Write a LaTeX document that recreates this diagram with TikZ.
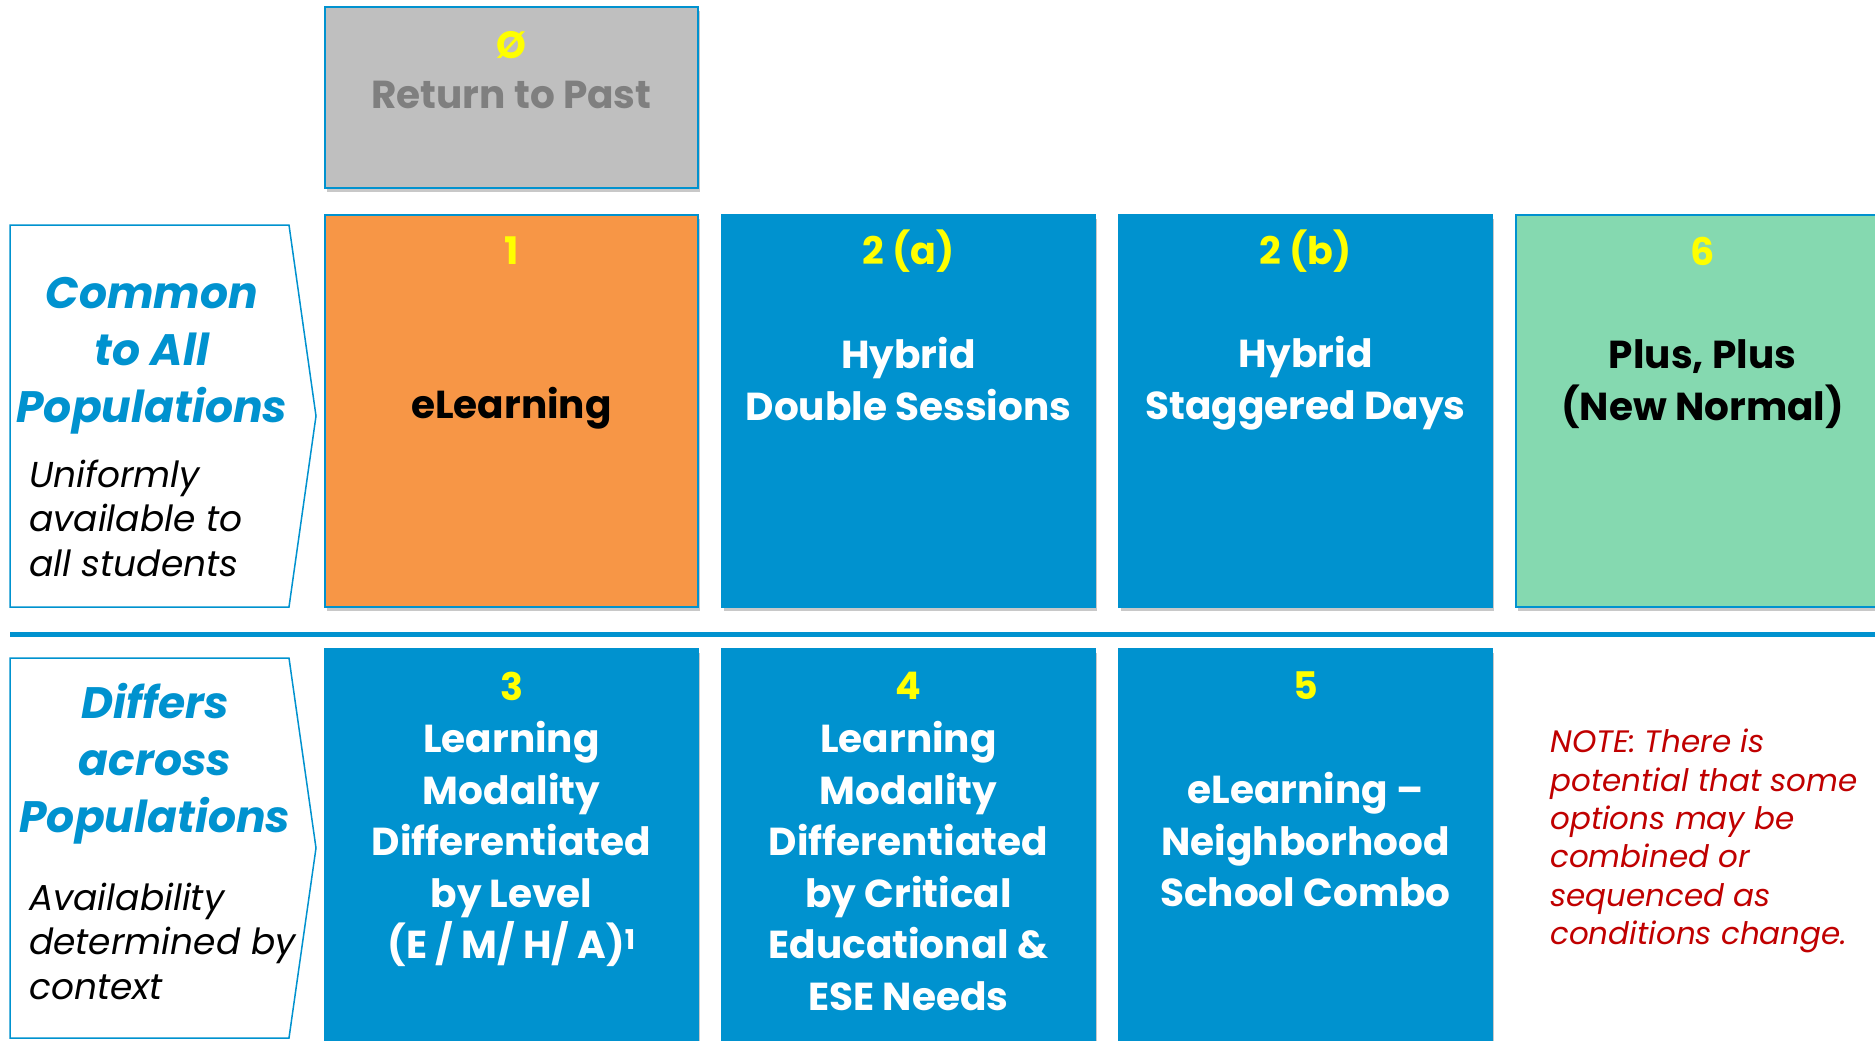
\documentclass[tikz,border=0pt]{standalone}
\usepackage{fontspec}
\setmainfont{Poppins}
\usetikzlibrary{shadows}
\definecolor{cblue}{HTML}{0092CF}
\definecolor{corange}{HTML}{F79646}
\definecolor{cgreen}{HTML}{85D9B0}
\definecolor{cgrey}{HTML}{BFBFBF}
\definecolor{cgreytext}{HTML}{7F7F7F}
\definecolor{cyellow}{HTML}{FFFF00}
\definecolor{cred}{HTML}{C00000}
\tikzset{
  optbox/.style={draw=cblue, line width=1.3pt, minimum width=373pt, minimum height=392pt, inner sep=0pt,
    drop shadow={shadow xshift=2pt, shadow yshift=-4pt, opacity=0.3, fill=black!70}},
  numtxt/.style={font=\bfseries\fontsize{38}{46}\selectfont, text=cyellow, inner sep=0pt},
  maintxt/.style={font=\bfseries\fontsize{39}{51.5}\selectfont, align=center, inner sep=0pt},
  lbltitle/.style={font=\bfseries\itshape\fontsize{44}{57}\selectfont, text=cblue, align=center, inner sep=0pt},
  lblsub/.style={font=\itshape\fontsize{36}{44.5}\selectfont, align=left, inner sep=0pt, anchor=west},
  notetxt/.style={font=\itshape\fontsize{31}{38.4}\selectfont, text=cred, align=left, inner sep=0pt, anchor=west},
  pent/.style={draw=cblue, line width=1.5pt, fill=white}
}
\begin{document}
\begin{tikzpicture}[x=1pt,y=-1pt]
\useasboundingbox (0,0) rectangle (1875,1041);
\clip (0,0) rectangle (1875,1041);
\fill[white] (0,0) rectangle (1875,1041);

% grey box
\node[optbox, fill=cgrey, minimum height=181pt] (b0) at (511.5,97.5) {};
\node[numtxt] (b0n) at (511.5,45) {Ø};
\node[maintxt, text=cgreytext] (b0t) at (511.5,95) {Return to Past};

% row 1
\node[optbox, fill=corange] (b1) at (511.5,411) {};
\node[optbox, fill=cblue] (b2a) at (908.5,411) {};
\node[optbox, fill=cblue] (b2b) at (1305.5,411) {};
\node[optbox, fill=cgreen] (b6) at (1702.5,411) {};

\node[numtxt] (b1n) at (511.5,251) {1};
\node[numtxt] (b2an) at (908.5,251) {2 (a)};
\node[numtxt] (b2bn) at (1305.5,251) {2 (b)};
\node[numtxt] (b6n) at (1702.5,251) {6};

\node[maintxt, text=black] (b1t) at (511.5,408) {eLearning};
\node[maintxt, text=white] (b2at) at (908.5,379) {Hybrid\\Double Sessions};
\node[maintxt, text=white] (b2bt) at (1305.5,383) {Hybrid\\Staggered Days};
\node[maintxt, text=black] (b6t) at (1702.5,384) {Plus, Plus\\(New Normal)};

% divider
\coordinate (dl) at (10,634);
\coordinate (dr) at (1875,634);
\draw[cblue, line width=5pt] (dl) -- (dr);

% row 2
\node[optbox, fill=cblue] (b3) at (511.5,845) {};
\node[optbox, fill=cblue] (b4) at (908.5,845) {};
\node[optbox, fill=cblue] (b5) at (1305.5,845) {};

\node[numtxt] (b3n) at (511.5,686) {3};
\node[numtxt] (b4n) at (908.5,686) {4};
\node[numtxt] (b5n) at (1305.5,686) {5};

\node[maintxt, text=white] (b3t) at (511.5,844) {Learning\\Modality\\Differentiated\\by Level\\(E / M/ H/ A)\textsuperscript{1}};
\node[maintxt, text=white] (b4t) at (908.5,866) {Learning\\Modality\\Differentiated\\by Critical\\Educational \&\\ESE Needs};
\node[maintxt, text=white] (b5t) at (1305.5,840) {eLearning –\\Neighborhood\\School Combo};

% left labels
\draw[pent] (10,225) -- (289,225) -- (316,416) -- (289,607) -- (10,607) -- cycle;
\draw[pent] (10,658) -- (289,658) -- (316,848) -- (289,1038) -- (10,1038) -- cycle;

\node[lbltitle] (l1t) at (152,355.5) {Common\\to All\\Populations};
\node[lblsub] (l1s) at (29,518) {Uniformly\\available to\\all students};
\node[lbltitle] (l2t) at (155,764) {Differs\\across\\Populations};
\node[lblsub] (l2s) at (29,941) {Availability\\determined by\\context};

% note
\node[notetxt] (note) at (1550,841) {NOTE: There is\\potential that some\\options may be\\combined or\\sequenced as\\conditions change.};
\end{tikzpicture}
\end{document}
